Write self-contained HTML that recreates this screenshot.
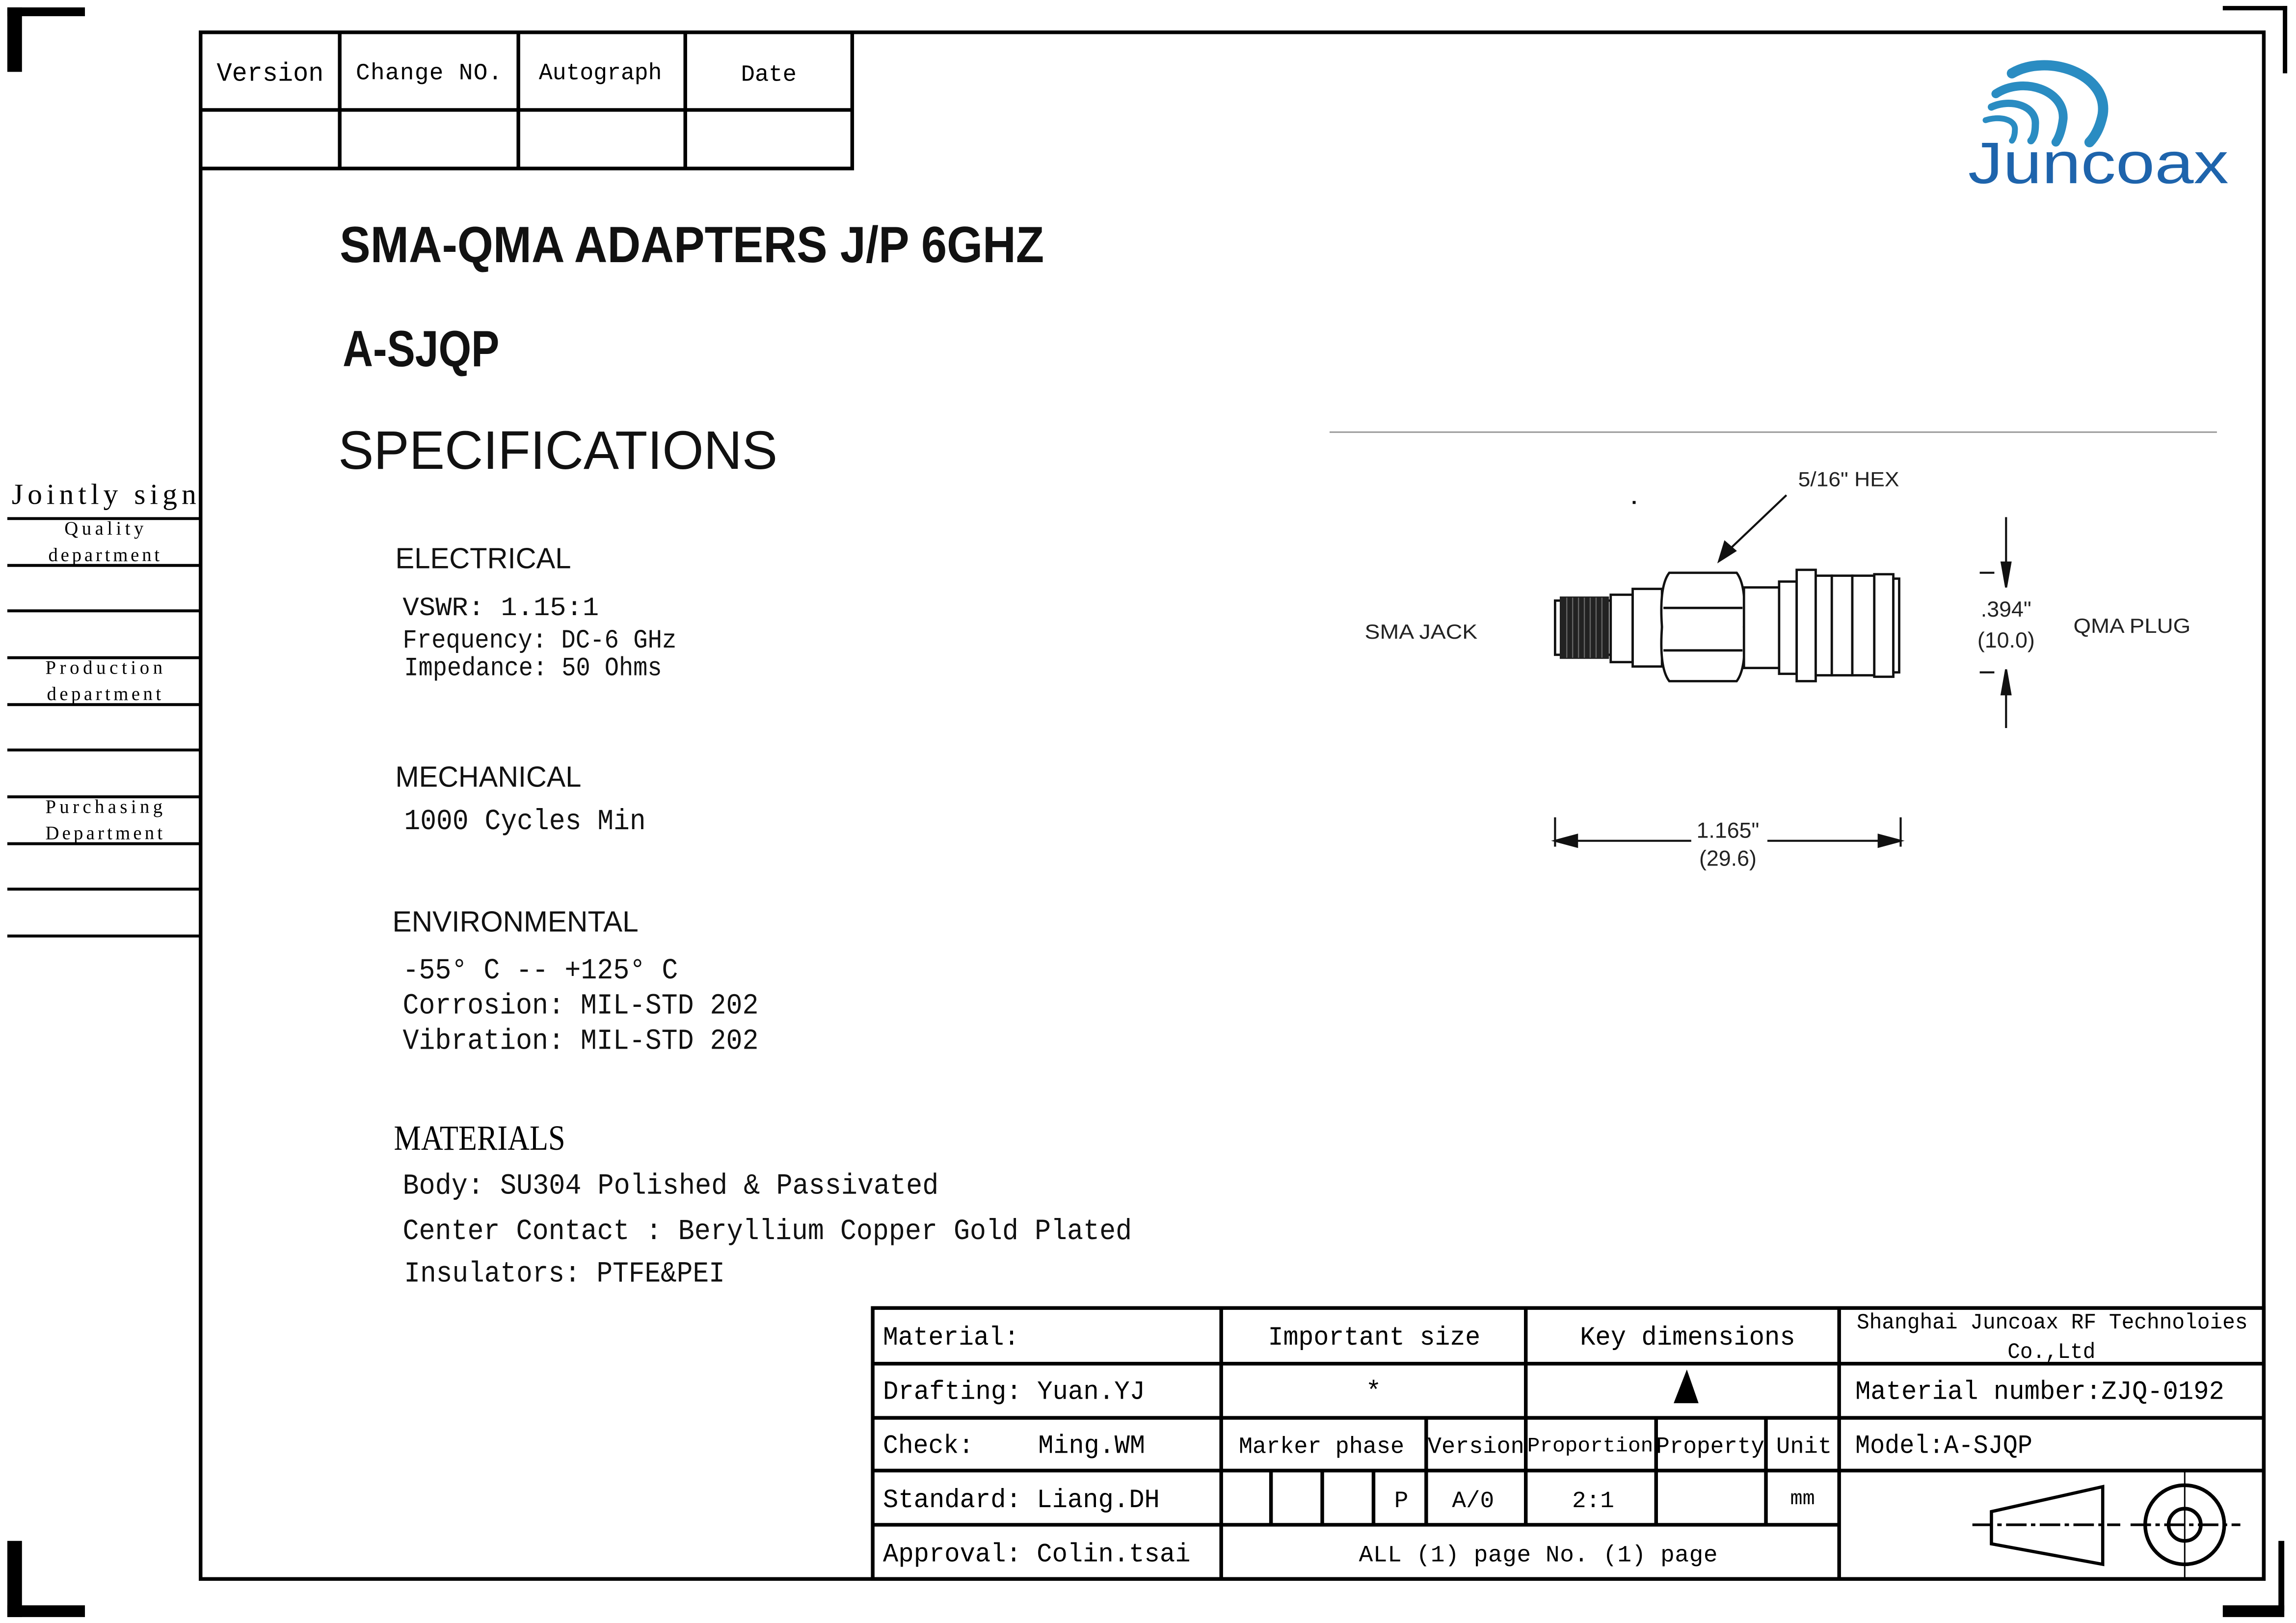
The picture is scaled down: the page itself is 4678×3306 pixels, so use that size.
<!DOCTYPE html>
<html><head><meta charset="utf-8"><style>
html,body{margin:0;padding:0;background:#fff;}
svg{display:block;}
.m{font-family:"Liberation Mono","Noto Sans CJK SC",monospace;}
.s{font-family:"Liberation Sans",sans-serif;}
.r{font-family:"Liberation Serif","Noto Serif CJK SC",serif;}
</style></head><body>
<svg width="4678" height="3306" viewBox="0 0 1568 1108" xmlns="http://www.w3.org/2000/svg">
<rect width="1568" height="1108" fill="#fff"/>
<g fill="#000">
<rect x="5" y="5" width="10" height="44"/><rect x="5" y="5" width="53" height="6"/>
<rect x="5" y="1052" width="10" height="52"/><rect x="5" y="1096" width="53" height="8"/>
<rect x="1518" y="4" width="44" height="3"/><rect x="1559" y="4" width="3" height="46"/>
<rect x="1556" y="1052" width="4" height="48"/><rect x="1518" y="1096" width="42" height="8"/>
</g>
<rect x="137" y="22" width="1409" height="1056" fill="none" stroke="#000" stroke-width="2.5"/>
<g stroke="#000" stroke-width="2.5" fill="none">
<path d="M137 115 H582 V22 M137 75 H582 M232 22 V115 M354 22 V115 M468 22 V115"/>
</g>
<g class="m" font-size="18" fill="#000">
<text x="148" y="55" textLength="73" lengthAdjust="spacingAndGlyphs">Version</text>
<text x="243" y="54" font-size="16" textLength="100" lengthAdjust="spacing">Change  NO.</text>
<text x="368" y="54" font-size="16" textLength="84" lengthAdjust="spacingAndGlyphs">Autograph</text>
<text x="506" y="55" font-size="16" textLength="38" lengthAdjust="spacingAndGlyphs">Date</text>
</g>
<g fill="none" stroke="#2a8cc2" stroke-linecap="round">
<path d="M1374 50 C1398 36 1440 50 1436 78 C1434 88 1430 94 1427 97" stroke-width="7"/>
<path d="M1363 64 C1381 52 1410 61 1409 81 C1408 89 1406 94 1404 97" stroke-width="6"/>
<path d="M1360 73 C1373 67 1391 72 1390 85 C1390 90 1389 94 1387 96" stroke-width="5"/>
<path d="M1356 82 C1365 79 1377 81 1376 89 C1376 92 1375 95 1374 96" stroke-width="4"/>
</g>
<text x="1344" y="125" class="s" font-size="40" fill="#1e64ac" textLength="178" lengthAdjust="spacingAndGlyphs">Juncoax</text>
<g class="s" fill="#111">
<text x="232" y="179" font-size="35" font-weight="bold" textLength="481" lengthAdjust="spacingAndGlyphs">SMA-QMA  ADAPTERS  J/P 6GHZ</text>
<text x="234" y="250" font-size="35" font-weight="bold" textLength="107" lengthAdjust="spacingAndGlyphs">A-SJQP</text>
<text x="231" y="320" font-size="37" textLength="300" lengthAdjust="spacingAndGlyphs">SPECIFICATIONS</text>
<text x="270" y="388" font-size="20" textLength="120" lengthAdjust="spacingAndGlyphs">ELECTRICAL</text>
<text x="270" y="537" font-size="20" textLength="127" lengthAdjust="spacingAndGlyphs">MECHANICAL</text>
<text x="268" y="636" font-size="20" textLength="168" lengthAdjust="spacingAndGlyphs">ENVIRONMENTAL</text>
</g>
<text x="269" y="785" class="r" font-size="24" textLength="117" lengthAdjust="spacingAndGlyphs">MATERIALS</text>
<g class="m" fill="#111" font-size="18">
<text x="275" y="420" textLength="134" lengthAdjust="spacingAndGlyphs">VSWR:  1.15:1</text>
<text x="275" y="442" textLength="187" lengthAdjust="spacingAndGlyphs">Frequency: DC-6 GHz</text>
<text x="276" y="461" textLength="176" lengthAdjust="spacingAndGlyphs">Impedance: 50 Ohms</text>
<text x="276" y="566" font-size="20" textLength="165" lengthAdjust="spacingAndGlyphs">1000 Cycles Min</text>
<text x="275" y="668" font-size="20" textLength="188" lengthAdjust="spacingAndGlyphs">-55° C -- +125° C</text>
<text x="275" y="692" font-size="20" textLength="243" lengthAdjust="spacingAndGlyphs">Corrosion: MIL-STD 202</text>
<text x="275" y="716" font-size="20" textLength="243" lengthAdjust="spacingAndGlyphs">Vibration: MIL-STD 202</text>
<text x="275" y="815" font-size="20" textLength="366" lengthAdjust="spacingAndGlyphs">Body: SU304 Polished &amp; Passivated</text>
<text x="275" y="846" font-size="20" textLength="498" lengthAdjust="spacingAndGlyphs">Center Contact : Beryllium Copper Gold Plated</text>
<text x="276" y="875" font-size="20" textLength="219" lengthAdjust="spacingAndGlyphs">Insulators: PTFE&amp;PEI</text>
</g>
<text x="8" y="344" class="r" font-size="20" textLength="126" lengthAdjust="spacing">Jointly sign</text>
<g stroke="#000" stroke-width="2">
<path d="M5 354H137M5 386H137M5 417H137M5 449H137M5 481H137M5 512H137M5 544H137M5 576H137M5 607H137M5 639H137"/>
</g>
<g class="r" font-size="13" fill="#000" text-anchor="middle">
<text x="71" y="365" textLength="54" lengthAdjust="spacing">Quality</text>
<text x="71" y="383" textLength="76" lengthAdjust="spacing">department</text>
<text x="71" y="460" textLength="80" lengthAdjust="spacing">Production</text>
<text x="71" y="478" textLength="78" lengthAdjust="spacing">department</text>
<text x="71" y="555" textLength="80" lengthAdjust="spacing">Purchasing</text>
<text x="71" y="573" textLength="80" lengthAdjust="spacing">Department</text>
</g>
<line x1="908" y1="295" x2="1514" y2="295" stroke="#999" stroke-width="1"/>
<g stroke="#111" stroke-width="1.6" fill="#fff">
<rect x="1062" y="410" width="38" height="37"/>
<rect x="1066" y="408" width="32" height="41" fill="#222" stroke="#222"/>
<rect x="1100" y="406" width="15" height="46"/>
<rect x="1115" y="402" width="20" height="53"/>
<path d="M1140 391 H1186 Q1193 400 1191 428 Q1193 456 1186 465 H1140 Q1133 456 1135 428 Q1133 400 1140 391 Z"/>
<path d="M1136 415 H1190 M1136 444 H1190" fill="none"/>
<rect x="1191" y="401" width="24" height="55"/>
<rect x="1215" y="397" width="12" height="63"/>
<rect x="1227" y="389" width="13" height="76"/>
<rect x="1240" y="393" width="11" height="68"/>
<rect x="1251" y="393" width="14" height="68"/>
<rect x="1265" y="393" width="15" height="68"/>
<rect x="1280" y="392" width="13" height="70"/>
<rect x="1293" y="395" width="4" height="64"/>
</g>
<g stroke="#666" stroke-width="0.8">
<path d="M1070 408V449M1074 408V449M1078 408V449M1082 408V449M1086 408V449M1090 408V449M1094 408V449"/>
</g>
<g stroke="#111" stroke-width="1.4" fill="#111">
<line x1="1220" y1="338" x2="1178" y2="378"/>
<path d="M1174 383 L1178 370 L1185 376 Z"/>
<line x1="1370" y1="353" x2="1370" y2="398"/><path d="M1370 401 L1367 384 L1373 384 Z"/>
<line x1="1370" y1="458" x2="1370" y2="497"/><path d="M1370 457 L1367 474 L1373 474 Z"/>
<line x1="1352" y1="391" x2="1362" y2="391"/><line x1="1352" y1="459" x2="1362" y2="459"/>
<line x1="1062" y1="558" x2="1062" y2="578"/><line x1="1298" y1="558" x2="1298" y2="578"/>
<line x1="1062" y1="574" x2="1155" y2="574"/><line x1="1207" y1="574" x2="1298" y2="574"/>
<path d="M1062 574 L1077 570 L1077 578 Z"/><path d="M1298 574 L1283 570 L1283 578 Z"/>
</g>
<rect x="1115" y="342" width="2" height="2" fill="#000"/>
<g class="s" fill="#222" font-size="14">
<text x="1228" y="332" textLength="69" lengthAdjust="spacingAndGlyphs">5/16" HEX</text>
<text x="932" y="436" textLength="77" lengthAdjust="spacingAndGlyphs">SMA JACK</text>
<text x="1416" y="432" textLength="80" lengthAdjust="spacingAndGlyphs">QMA PLUG</text>
<text x="1370" y="421" text-anchor="middle" font-size="15">.394"</text>
<text x="1370" y="442" text-anchor="middle" font-size="15">(10.0)</text>
<text x="1180" y="572" text-anchor="middle" font-size="15">1.165"</text>
<text x="1180" y="591" text-anchor="middle" font-size="15">(29.6)</text>
</g>
<g stroke="#000" stroke-width="2.5" fill="none">
<rect x="596" y="893" width="950" height="185"/>
<path d="M596 931H1546M596 968H1546M596 1004H1546M596 1041H1256"/>
<path d="M834 893V1078M1042 893V1041M1256 893V1078"/>
<path d="M974 968V1041M1131 968V1041M1206 968V1041M868 1004V1041M903 1004V1041M938 1004V1041"/>
</g>
<path d="M1152 935 L1160 958 L1143 958 Z" fill="#000"/>
<g class="m" fill="#000" font-size="18">
<text x="603" y="918" textLength="93" lengthAdjust="spacingAndGlyphs">Material:</text>
<text x="866" y="918" textLength="145" lengthAdjust="spacingAndGlyphs">Important size</text>
<text x="1079" y="918" textLength="147" lengthAdjust="spacingAndGlyphs">Key dimensions</text>
<text x="1268" y="907" font-size="15" textLength="267" lengthAdjust="spacingAndGlyphs">Shanghai Juncoax RF Technoloies</text>
<text x="1371" y="927" font-size="15" textLength="60" lengthAdjust="spacingAndGlyphs">Co.,Ltd</text>
<text x="603" y="955" textLength="179" lengthAdjust="spacingAndGlyphs">Drafting: Yuan.YJ</text>
<text x="938" y="955" text-anchor="middle">*</text>
<text x="1267" y="955" textLength="252" lengthAdjust="spacingAndGlyphs">Material number:ZJQ-0192</text>
<text x="603" y="992" textLength="62" lengthAdjust="spacingAndGlyphs">Check:</text>
<text x="709" y="992" textLength="73" lengthAdjust="spacingAndGlyphs">Ming.WM</text>
<text x="846" y="992" font-size="16" textLength="113" lengthAdjust="spacingAndGlyphs">Marker phase</text>
<text x="975" y="992" font-size="16" textLength="66" lengthAdjust="spacingAndGlyphs">Version</text>
<text x="1043" y="991" font-size="14" textLength="86" lengthAdjust="spacingAndGlyphs">Proportion</text>
<text x="1131" y="992" font-size="16" textLength="74" lengthAdjust="spacingAndGlyphs">Property</text>
<text x="1213" y="992" font-size="16" textLength="38" lengthAdjust="spacingAndGlyphs">Unit</text>
<text x="1267" y="992" textLength="121" lengthAdjust="spacingAndGlyphs">Model:A-SJQP</text>
<text x="603" y="1029" textLength="189" lengthAdjust="spacingAndGlyphs">Standard: Liang.DH</text>
<text x="957" y="1029" font-size="16" text-anchor="middle">P</text>
<text x="1006" y="1029" font-size="16" text-anchor="middle">A/0</text>
<text x="1088" y="1029" font-size="16" text-anchor="middle">2:1</text>
<text x="1231" y="1027" font-size="14" text-anchor="middle">mm</text>
<text x="603" y="1066" textLength="210" lengthAdjust="spacingAndGlyphs">Approval: Colin.tsai</text>
<text x="928" y="1066" font-size="16" textLength="245" lengthAdjust="spacing">ALL (1) page  No. (1) page</text>
</g>
<g stroke="#000" fill="none">
<path d="M1360 1032 L1436 1015 L1436 1068 L1360 1054 Z" stroke-width="2.2"/>
<path d="M1347 1041 H1448" stroke-width="1.8" stroke-dasharray="14 3 3 3"/>
<circle cx="1492" cy="1041" r="27" stroke-width="2.5"/>
<circle cx="1492" cy="1041" r="11" stroke-width="2.5"/>
<path d="M1455 1041 H1530" stroke-width="1.8" stroke-dasharray="14 3 3 3"/>
<path d="M1492 1005 V1078" stroke-width="1"/>
</g>
</svg>
</body></html>
